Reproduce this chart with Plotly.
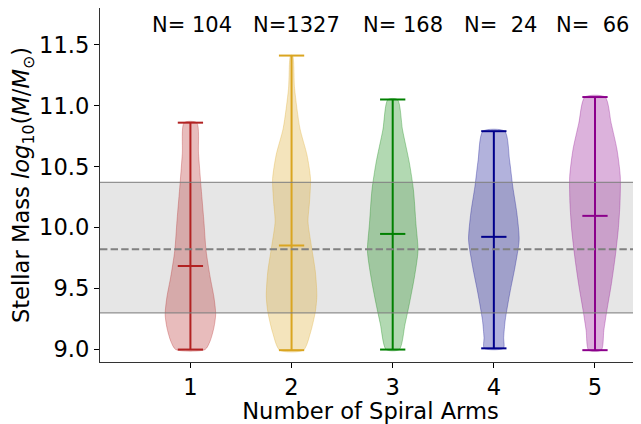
import plotly.graph_objects as go

# ---- data ----
arms = [1, 2, 3, 4, 5]
count_labels = ["N= 104", "N=1327", "N= 168", "N=\u00a0\u00a024", "N=\u00a0\u00a066"]
label_x = [0.60, 1.60, 2.69, 3.69, 4.59]   # left edges of the count labels
label_y = 11.66

mass_min = [9.00, 8.995, 9.00, 9.01, 8.995]
mass_max = [10.86, 11.41, 11.05, 10.79, 11.07]
mass_median = [9.685, 9.853, 9.948, 9.924, 10.096]

# violin density profiles (mass level, relative width)
v1_y = [9.00, 9.07, 9.18, 9.29, 9.43, 9.595, 9.81, 10.06, 10.36, 10.61, 10.86]
v1_w = [0.58, 0.78, 0.93, 1.00, 0.93, 0.78, 0.62, 0.53, 0.41, 0.32, 0.25]
v2_y = [8.995, 9.14, 9.31, 9.44, 9.64, 9.855, 10.05, 10.21, 10.40, 10.595, 10.815, 11.14, 11.41]
v2_w = [0.47, 0.75, 0.94, 1.00, 0.94, 0.78, 0.65, 0.71, 0.75, 0.61, 0.33, 0.12, 0.04]
v3_y = [9.00, 9.21, 9.376, 9.595, 9.81, 10.03, 10.31, 10.53, 10.80, 11.05]
v3_w = [0.26, 0.49, 0.66, 0.86, 1.00, 0.92, 0.82, 0.66, 0.39, 0.19]
v4_y = [9.01, 9.10, 9.24, 9.46, 9.68, 9.90, 10.12, 10.335, 10.555, 10.79]
v4_w = [0.38, 0.39, 0.45, 0.63, 0.84, 1.00, 0.91, 0.75, 0.62, 0.43]
v5_y = [8.995, 9.156, 9.32, 9.54, 9.76, 9.98, 10.20, 10.42, 10.64, 10.856, 11.07]
v5_w = [0.25, 0.35, 0.47, 0.65, 0.80, 0.92, 0.99, 1.00, 0.87, 0.64, 0.40]

band_low = 9.30
band_high = 10.37
overall_median = 9.822

y_ticks = [9.0, 9.5, 10.0, 10.5, 11.0, 11.5]

# ---- styling ----
colors = [(178, 34, 34), (218, 165, 32), (0, 128, 0), (0, 0, 139), (139, 0, 139)]
half_width = 0.25
cap_half = 0.125
FONT = "DejaVu Sans"

profiles = [(v1_y, v1_w), (v2_y, v2_w), (v3_y, v3_w), (v4_y, v4_w), (v5_y, v5_w)]

fig = go.Figure()

for pos, (py, pw), c in zip(arms, profiles, colors):
    xs = [pos + half_width * w for w in pw] + [pos - half_width * w for w in reversed(pw)]
    ys = list(py) + list(reversed(py))
    xs.append(xs[0])
    ys.append(ys[0])
    fig.add_trace(go.Scatter(
        x=xs, y=ys, mode="lines", fill="toself",
        fillcolor=f"rgba({c[0]},{c[1]},{c[2]},0.3)",
        line=dict(color=f"rgba({c[0]},{c[1]},{c[2]},0.3)", width=1, shape="spline", smoothing=0.7),
        hoverinfo="skip", showlegend=False,
    ))

for pos, lo, hi, med, c in zip(arms, mass_min, mass_max, mass_median, colors):
    lx = [pos, pos, None,
          pos - cap_half, pos + cap_half, None,
          pos - cap_half, pos + cap_half, None,
          pos - cap_half, pos + cap_half]
    ly = [lo, hi, None, lo, lo, None, hi, hi, None, med, med]
    fig.add_trace(go.Scatter(
        x=lx, y=ly, mode="lines",
        line=dict(color=f"rgb({c[0]},{c[1]},{c[2]})", width=2),
        hoverinfo="skip", showlegend=False,
    ))

fig.add_shape(type="rect", xref="paper", yref="y", x0=0, x1=1, y0=band_low, y1=band_high,
              fillcolor="rgba(128,128,128,0.2)", line=dict(width=0), layer="below")
for yv in (band_low, band_high):
    fig.add_shape(type="line", xref="paper", yref="y", x0=0, x1=1, y0=yv, y1=yv,
                  line=dict(color="rgba(128,128,128,0.85)", width=1.2), layer="above")
fig.add_shape(type="line", xref="paper", yref="y", x0=0, x1=1, y0=overall_median, y1=overall_median,
              line=dict(color="rgb(128,128,128)", width=2, dash="7.4px,3.2px"), layer="above")

for lx, lab in zip(label_x, count_labels):
    fig.add_annotation(x=lx, y=label_y, text=lab, showarrow=False, xanchor="left", yanchor="middle",
                       font=dict(family=FONT, size=21, color="black"))

fig.update_layout(
    width=633, height=416,
    margin=dict(l=92, r=0, t=0, b=62, autoexpand=False),
    paper_bgcolor="white", plot_bgcolor="white",
    font=dict(family=FONT, size=22, color="black"),
    xaxis=dict(
        range=[0.106, 5.455], tickvals=arms, ticktext=[str(a) for a in arms],
        ticks="outside", ticklen=5, tickwidth=1.2, tickcolor="black",
        showline=True, mirror=True, linecolor="#333", linewidth=1.3,
        showgrid=False, zeroline=False, automargin=False,
        title=dict(text="Number of Spiral Arms", font=dict(family=FONT, size=22.6), standoff=4),
        tickfont=dict(family=FONT, size=22.6),
    ),
    yaxis=dict(
        range=[8.898, 11.80], tickvals=y_ticks, tickformat=".1f",
        ticks="outside", ticklen=5, tickwidth=1.2, tickcolor="black",
        showline=True, mirror=False, linecolor="#333", linewidth=1.3,
        showgrid=False, zeroline=False, automargin=False,
        title=dict(text="Stellar Mass <i>log</i><sub>10</sub>(<i>M</i>/<i>M</i><sub>\u2299</sub>)",
                   font=dict(family=FONT, size=22.6), standoff=5),
        tickfont=dict(family=FONT, size=22.6),
    ),
)

fig.write_html("out.html")
